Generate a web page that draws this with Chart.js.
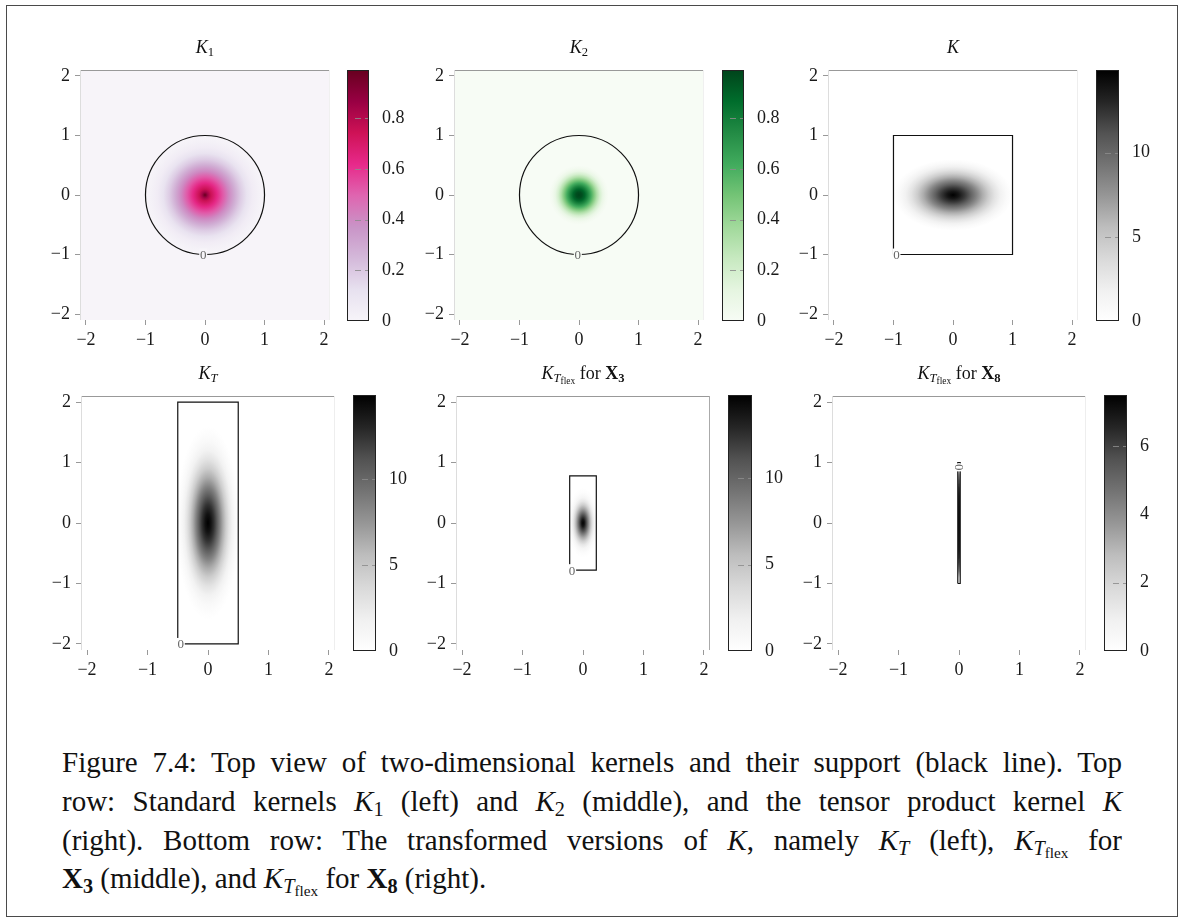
<!DOCTYPE html>
<html>
<head>
<meta charset="utf-8">
<title>Figure 7.4</title>
<script src="https://cdn.jsdelivr.net/npm/chart.js@4.4.1/dist/chart.umd.min.js"></script>
<style>
  html,body{margin:0;padding:0;background:#fff;}
  body{width:1184px;height:923px;position:relative;overflow:hidden;font-family:'Liberation Serif',serif;color:#111;}
  canvas{position:absolute;}
  .frame{position:absolute;left:6px;top:5px;width:1172px;height:912px;border:1px solid #4a4a4a;box-sizing:border-box;}
  .title{position:absolute;width:240px;text-align:center;font-size:18px;line-height:22px;white-space:nowrap;}
  .cap{position:absolute;left:62px;width:1060px;font-size:29px;line-height:30px;text-align:justify;text-align-last:justify;}
  .cap.last{text-align:left;text-align-last:left;}
  sub{font-size:70%;vertical-align:-0.25em;line-height:0;}
  sub sub{font-size:75%;vertical-align:-0.2em;}
</style>
</head>
<body>
<div class="frame"></div>
<div id="figure"></div>
<div class="cap" style="top:747px">Figure 7.4: Top view of two-dimensional kernels and their support (black line). Top</div>
<div class="cap" style="top:786px">row: Standard kernels <i>K</i><sub>1</sub> (left) and <i>K</i><sub>2</sub> (middle), and the tensor product kernel <i>K</i></div>
<div class="cap" style="top:825px">(right). Bottom row: The transformed versions of <i>K</i>, namely <i>K</i><sub><i>T</i></sub> (left), <i>K</i><sub><i>T</i><sub>flex</sub></sub> for</div>
<div class="cap last" style="top:863px"><b>X<sub>3</sub></b> (middle), and <i>K</i><sub><i>T</i><sub>flex</sub></sub> for <b>X<sub>8</sub></b> (right).</div>
<script>
const axisTicks = [-2, -1, 0, 1, 2];
const axisRange = [-2.1, 2.1];

const purd = ['#f7f4f9','#e7e1ef','#d4b9da','#c994c7','#df65b0','#e7298a','#ce1256','#980043','#67001f'];
const greens = ['#f7fcf5','#e5f5e0','#c7e9c0','#a1d99b','#74c476','#41ab5d','#238b45','#006d2c','#00441b'];
const greys = ['#ffffff','#f0f0f0','#d9d9d9','#bdbdbd','#969696','#737373','#525252','#252525','#000000'];

// kernel value against distance from the centre, read along the long axis
const k1Radius = [0, 0.05, 0.1, 0.2, 0.3, 0.4, 0.5, 0.6, 0.7, 0.8, 0.9, 1.0];
const k1Value = [0.99, 0.84, 0.75, 0.63, 0.52, 0.4, 0.29, 0.19, 0.11, 0.05, 0.02, 0];
const k2Radius = [0, 0.05, 0.1, 0.15, 0.2, 0.25, 0.3, 0.35, 0.4, 0.45, 0.5];
const k2Value = [0.99, 0.96, 0.88, 0.76, 0.62, 0.47, 0.32, 0.19, 0.09, 0.03, 0];
const kRadius = [0, 0.1, 0.2, 0.3, 0.4, 0.5, 0.6, 0.7, 0.8, 0.9, 1.0];
const kValue = [14.9, 13.8, 12.2, 10.3, 8.3, 6.3, 4.5, 2.9, 1.6, 0.6, 0];
const ktRadius = [0, 0.15, 0.3, 0.45, 0.6, 0.75, 0.9, 1.05, 1.2, 1.35, 1.5, 1.6];
const ktValue = [14.9, 14.0, 12.5, 10.6, 8.5, 6.4, 4.5, 2.9, 1.6, 0.7, 0.2, 0];
const kx3Radius = [0, 0.06, 0.12, 0.18, 0.24, 0.3, 0.36, 0.42, 0.5, 0.58];
const kx3Value = [14.9, 13.6, 11.5, 9.0, 6.6, 4.4, 2.6, 1.2, 0.35, 0];
const kx8Radius = [0, 0.3, 0.6, 0.8, 0.9, 1.0];
const kx8Value = [7.5, 7.3, 6.8, 5.8, 4.5, 0];

// stretch of each profile along x and y
const k1Axes = [1, 1], k2Axes = [1, 1], kAxes = [1, 0.6], ktAxes = [0.33, 1], kx3Axes = [0.45, 1], kx8Axes = [0.02, 1];

// supports: circle radius, boxes as [xmin, xmax, ymin, ymax]
const circleRadius = 1;
const kBox = [-1, 1, -1, 1];
const ktBox = [-0.5, 0.5, -2, 2];
const kx3Box = [-0.22, 0.22, -0.78, 0.78];
const kx8Box = [-0.02, 0.02, -1, 1];

// where the "0" level label sits on each support line
const k1Label = [-0.03, -1], k2Label = [-0.02, -1], kLabel = [-0.95, -1], ktLabel = [-0.45, -2], kx3Label = [-0.18, -0.78], kx8Label = [0, 0.92];

// colour bars
const cbMaxStd = 0.99, cbTicksStd = [0, 0.2, 0.4, 0.6, 0.8];
const cbMaxK = 14.9, cbTicksK = [0, 5, 10];
const cbMaxX3 = 14.8;
const cbMaxX8 = 7.5, cbTicksX8 = [0, 2, 4, 6];

const panels = [
  {title:'<i>K</i><sub>1</sub>', cmap:purd, radius:k1Radius, value:k1Value, axes:k1Axes, vmax:cbMaxStd, cbTicks:cbTicksStd, circle:circleRadius, label:k1Label,
   plot:{l:80, t:70, w:250, h:250}, bar:{l:347, t:70, w:22, h:251}, right:'#f0f0f0'},
  {title:'<i>K</i><sub>2</sub>', cmap:greens, radius:k2Radius, value:k2Value, axes:k2Axes, vmax:cbMaxStd, cbTicks:cbTicksStd, circle:circleRadius, label:k2Label,
   plot:{l:454, t:70, w:250, h:250}, bar:{l:722, t:70, w:22, h:251}, right:'#f0f0f0'},
  {title:'<i>K</i>', cmap:greys, radius:kRadius, value:kValue, axes:kAxes, vmax:cbMaxK, cbTicks:cbTicksK, box:kBox, label:kLabel,
   plot:{l:828, t:70, w:250, h:250}, bar:{l:1096, t:70, w:23, h:251}, right:'#eeeeee'},
  {title:'<i>K</i><sub><i>T</i></sub>', cmap:greys, radius:ktRadius, value:ktValue, axes:ktAxes, vmax:cbMaxK, cbTicks:cbTicksK, box:ktBox, label:ktLabel,
   plot:{l:81, t:396, w:254, h:254}, bar:{l:353, t:395, w:23, h:256}, right:'#eeeeee'},
  {title:'<i>K</i><sub><i>T</i><sub>flex</sub></sub> for <b>X<sub>3</sub></b>', cmap:greys, radius:kx3Radius, value:kx3Value, axes:kx3Axes, vmax:cbMaxX3, cbTicks:cbTicksK, box:kx3Box, label:kx3Label,
   plot:{l:456, t:396, w:254, h:254}, bar:{l:728, t:395, w:24, h:256}, right:'#aaaaaa'},
  {title:'<i>K</i><sub><i>T</i><sub>flex</sub></sub> for <b>X<sub>8</sub></b>', cmap:greys, radius:kx8Radius, value:kx8Value, axes:kx8Axes, vmax:cbMaxX8, cbTicks:cbTicksX8, box:kx8Box, label:kx8Label, turnLabel:true,
   plot:{l:832, t:396, w:254, h:254}, bar:{l:1104, t:395, w:23, h:256}, right:'#eeeeee'}
];

Chart.defaults.font.family = "'Liberation Serif', serif";
Chart.defaults.font.size = 18;
const tickFont = {family:"'Liberation Serif', serif", size:18};
const hex = h => [1, 3, 5].map(i => parseInt(h.slice(i, i + 2), 16));
const cmapColor = (stops, t) => {
  t = Math.min(Math.max(t, 0), 1) * (stops.length - 1);
  const i = Math.min(Math.floor(t), stops.length - 2), f = t - i;
  const a = hex(stops[i]), b = hex(stops[i + 1]);
  return `rgb(${a.map((c, j) => Math.round(c + (b[j] - c) * f)).join(',')})`;
};
const fmt = v => v < 0 ? '\u2212' + Math.abs(v) : String(v);
const setTicks = vals => s => { s.ticks = vals.map(v => ({value:v})); };
const boxPoints = b => [[b[0], b[2]], [b[1], b[2]], [b[1], b[3]], [b[0], b[3]], [b[0], b[2]]].map(([x, y]) => ({x, y}));

const kernelLayer = p => ({
  id:'kernel',
  beforeDatasetsDraw(chart) {
    const {ctx, chartArea:a, scales:{x, y}} = chart;
    ctx.save();
    ctx.beginPath(); ctx.rect(a.left, a.top, a.width, a.height); ctx.clip();
    ctx.fillStyle = cmapColor(p.cmap, 0);
    ctx.fillRect(a.left, a.top, a.width, a.height);
    const rMax = p.radius[p.radius.length - 1];
    const cx = x.getPixelForValue(0), cy = y.getPixelForValue(0);
    ctx.translate(cx, cy);
    ctx.scale(x.getPixelForValue(rMax * p.axes[0]) - cx, cy - y.getPixelForValue(rMax * p.axes[1]));
    const g = ctx.createRadialGradient(0, 0, 0, 0, 0, 1);
    p.radius.forEach((r, i) => g.addColorStop(r / rMax, cmapColor(p.cmap, p.value[i] / p.vmax)));
    ctx.fillStyle = g;
    ctx.beginPath(); ctx.arc(0, 0, 1, 0, Math.PI * 2); ctx.fill();
    ctx.restore();
  },
  afterDatasetsDraw(chart) {
    const {ctx, chartArea:a, scales:{x, y}} = chart;
    const cx = x.getPixelForValue(0), cy = y.getPixelForValue(0);
    ctx.save();
    if (p.circle) {
      ctx.strokeStyle = '#111'; ctx.lineWidth = 1.2;
      ctx.beginPath();
      ctx.ellipse(cx, cy, x.getPixelForValue(p.circle) - cx, cy - y.getPixelForValue(p.circle), 0, 0, Math.PI * 2);
      ctx.stroke();
    }
    // contour level label breaks the support line
    ctx.translate(x.getPixelForValue(p.label[0]), y.getPixelForValue(p.label[1]));
    if (p.turnLabel) ctx.rotate(-Math.PI / 2);
    ctx.fillStyle = cmapColor(p.cmap, 0);
    ctx.fillRect(-4, -6, 8, 12);
    ctx.fillStyle = '#666';
    ctx.font = "13px 'Liberation Serif', serif";
    ctx.textAlign = 'center'; ctx.textBaseline = 'middle';
    ctx.fillText('0', 0, 1);
    ctx.restore();
    ctx.save();
    ctx.lineWidth = 1;
    ctx.strokeStyle = '#999';
    ctx.beginPath(); ctx.moveTo(a.left, a.top + 0.5); ctx.lineTo(a.right, a.top + 0.5); ctx.stroke();
    ctx.strokeStyle = '#dddddd';
    ctx.beginPath(); ctx.moveTo(a.left + 0.5, a.top); ctx.lineTo(a.left + 0.5, a.bottom); ctx.stroke();
    ctx.strokeStyle = p.right;
    ctx.beginPath(); ctx.moveTo(a.right - 0.5, a.top); ctx.lineTo(a.right - 0.5, a.bottom); ctx.stroke();
    ctx.restore();
  }
});

const barFrame = p => ({
  id:'barFrame',
  afterDraw(chart) {
    const {ctx, chartArea:a, scales:{y}} = chart;
    ctx.save();
    ctx.strokeStyle = 'rgba(140,140,140,0.85)'; ctx.lineWidth = 1; ctx.setLineDash([6, 4]);
    p.cbTicks.filter(v => v > 0).forEach(v => {
      const py = Math.round(y.getPixelForValue(v)) + 0.5;
      ctx.beginPath(); ctx.moveTo(a.right - 14, py); ctx.lineTo(a.right, py); ctx.stroke();
    });
    ctx.setLineDash([]);
    ctx.strokeStyle = '#222';
    ctx.strokeRect(a.left + 0.5, a.top + 0.5, a.width - 1, a.height - 1);
    ctx.restore();
  }
});

function place(chart, canvas, target) {
  const a = chart.chartArea;
  canvas.style.left = (target.l - a.left) + 'px';
  canvas.style.top = (target.t - a.top) + 'px';
}

function addCanvas(w, h) {
  const c = document.createElement('canvas');
  c.width = w; c.height = h;
  c.style.width = w + 'px'; c.style.height = h + 'px';
  document.getElementById('figure').appendChild(c);
  return c;
}

function drawPanel(p) {
  const {l, t, w, h} = p.plot;
  const c = addCanvas(w + 58, h + 50);
  const axis = (pos) => ({
    type:'linear', position:pos, min:axisRange[0], max:axisRange[1],
    afterBuildTicks:setTicks(axisTicks),
    afterFit:s => { if (pos === 'bottom') s.height = 30; else s.width = 40; },
    grid:{drawOnChartArea:false, drawTicks:true, tickLength:5, color:'#999', lineWidth:1},
    border:{display:false},
    ticks:{color:'#1a1a1a', font:tickFont, padding:pos === 'bottom' ? 4 : 5, callback:fmt, maxRotation:0, autoSkip:false}
  });
  const chart = new Chart(c, {
    type:'scatter',
    data:{datasets:p.box ? [{data:boxPoints(p.box), showLine:true, borderColor:'#111', borderWidth:1.2, pointRadius:0, fill:false, tension:0}] : []},
    options:{
      responsive:false, animation:false, events:[], devicePixelRatio:1,
      layout:{padding:{left:4, right:14, top:16, bottom:4}},
      plugins:{legend:{display:false}, tooltip:{enabled:false}},
      scales:{x:axis('bottom'), y:axis('left')}
    },
    plugins:[kernelLayer(p)]
  });
  place(chart, c, p.plot);

  const b = p.bar;
  const cb = addCanvas(b.w + 40, b.h + 32);
  const bar = new Chart(cb, {
    type:'bar',
    data:{labels:[''], datasets:[{
      data:[p.vmax], borderWidth:0, barPercentage:1, categoryPercentage:1,
      backgroundColor:ctx => {
        const ch = ctx.chart, y = ch.scales.y;
        if (!ch.chartArea || !y) return 'transparent';
        const g = ch.ctx.createLinearGradient(0, y.getPixelForValue(0), 0, y.getPixelForValue(p.vmax));
        p.cmap.forEach((col, i) => g.addColorStop(i / (p.cmap.length - 1), col));
        return g;
      }
    }]},
    options:{
      responsive:false, animation:false, events:[], devicePixelRatio:1,
      layout:{padding:{left:0, right:0, top:16, bottom:16}},
      plugins:{legend:{display:false}, tooltip:{enabled:false}},
      scales:{
        x:{display:false},
        y:{position:'right', min:0, max:p.vmax, afterBuildTicks:setTicks(p.cbTicks), afterFit:s => { s.width = 40; },
           grid:{display:false}, border:{display:false},
           ticks:{color:'#1a1a1a', font:tickFont, padding:5, callback:v => String(v)}}
      }
    },
    plugins:[barFrame(p)]
  });
  place(bar, cb, b);

  const tt = document.createElement('div');
  tt.className = 'title';
  tt.innerHTML = p.title;
  tt.style.left = (l + w / 2 - 120) + 'px';
  tt.style.top = (t - 34) + 'px';
  document.getElementById('figure').appendChild(tt);
}

panels.forEach(drawPanel);
</script>
</body>
</html>
